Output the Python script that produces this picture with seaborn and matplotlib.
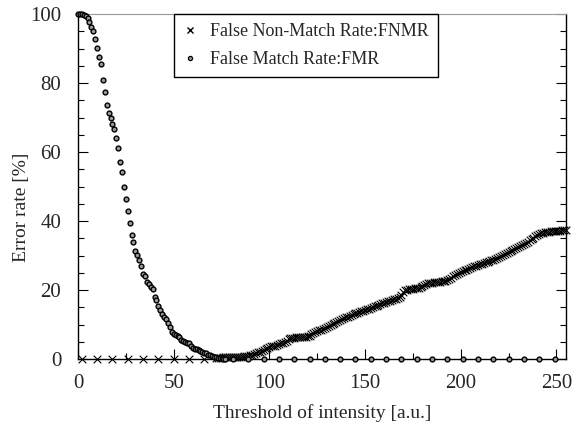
import numpy as np
import pandas as pd
import matplotlib
matplotlib.use("Agg")
import matplotlib.pyplot as plt
from matplotlib.ticker import MultipleLocator
from matplotlib.lines import Line2D
import seaborn as sns

# ---------------- data ----------------
# FMR: falling part, one value per threshold 0..77
fmr_x_fall = list(range(0, 78))
fmr_y_fall = [100, 100, 100, 99.6, 99.3, 98.8, 97.8, 96.3, 95.0, 92.8,
              90.2, 87.4, 85.5, 81.0, 77.5, 73.5, 71.3, 69.9, 68.1, 66.6,
              64.2, 61.1, 57.2, 54.1, 50.0, 46.5, 42.9, 39.5, 35.9, 34.0,
              31.4, 30.2, 28.8, 27.1, 24.5, 24.1, 22.3, 21.6, 21.0, 20.4,
              18.0, 17.1, 15.5, 14.2, 13.0, 12.3, 11.5, 10.4, 9.2, 7.8,
              7.3, 7.0, 6.8, 6.5, 5.4, 5.1, 4.9, 4.7, 4.5, 3.7,
              3.3, 3.0, 2.8, 2.5, 2.3, 2.1, 1.8, 1.6, 1.3, 1.1,
              0.9, 0.7, 0.5, 0.4, 0.3, 0.2, 0.1, 0.1]
# FMR zero values, plotted points
fmr_x_zero = [81, 89, 97, 105, 113, 121, 129, 137, 145, 153, 161, 169,
              177, 185, 193, 201, 209, 217, 225, 233, 241, 249]
fmr_y_zero = [0] * len(fmr_x_zero)

# FNMR: zero part (plotted points)
fnmr_x_zero = [2, 10, 18, 26, 34, 42, 50, 58, 66]
fnmr_y_zero = [0] * len(fnmr_x_zero)
# FNMR: rising part, one value per threshold 72..255
fnmr_x_rise = list(range(72, 256))
fnmr_y_rise = [0.3, 0.3, 0.4, 0.4, 0.5, 0.5, 0.5, 0.5, 0.5, 0.5,
               0.6, 0.6, 0.6, 0.7, 0.7, 0.8, 0.9, 1.0, 1.2, 1.3,
               1.5, 1.7, 1.9, 2.1, 2.3, 2.5, 2.8, 3.1, 3.5, 3.7,
               3.8, 3.9, 4.1, 4.4, 4.5, 4.6, 4.9, 5.3, 5.7, 6.0,
               6.1, 6.2, 6.3, 6.3, 6.4, 6.4, 6.5, 6.5, 6.6, 6.8,
               7.3, 7.6, 7.9, 8.1, 8.3, 8.5, 8.8, 9.1, 9.4, 9.7,
               10.0, 10.2, 10.5, 10.8, 11.0, 11.2, 11.5, 11.8, 12.1, 12.3,
               12.5, 12.8, 13.0, 13.2, 13.4, 13.6, 13.8, 14.0, 14.2, 14.4,
               14.6, 14.8, 15.0, 15.3, 15.5, 15.7, 15.9, 16.1, 16.3, 16.5,
               16.7, 16.9, 17.1, 17.3, 17.5, 17.7, 18.0, 18.6, 19.4, 20.0,
               20.1, 20.2, 20.3, 20.4, 20.5, 20.6, 20.7, 20.9, 21.1, 21.4,
               21.7, 21.9, 22.0, 22.1, 22.2, 22.3, 22.3, 22.4, 22.5, 22.6,
               22.7, 22.9, 23.2, 23.6, 24.0, 24.3, 24.6, 24.9, 25.2, 25.5,
               25.7, 25.9, 26.1, 26.4, 26.6, 26.9, 27.1, 27.3, 27.5, 27.6,
               27.8, 28.0, 28.2, 28.4, 28.6, 28.8, 29.0, 29.3, 29.6, 29.9,
               30.2, 30.5, 30.8, 31.0, 31.3, 31.6, 31.9, 32.2, 32.5, 32.8,
               33.1, 33.4, 33.7, 34.0, 34.4, 34.8, 35.2, 35.6, 36.0, 36.3,
               36.5, 36.6, 36.7, 36.8, 36.9, 37.0, 37.0, 37.1, 37.1, 37.2,
               37.2, 37.3, 37.3, 37.4]

label_fnmr = "False Non-Match Rate:FNMR"
label_fmr = "False Match Rate:FMR"
x_label = "Threshold of intensity [a.u.]"
y_label = "Error rate [%]"

fmr = pd.DataFrame({"x": fmr_x_fall + fmr_x_zero, "y": fmr_y_fall + fmr_y_zero})
fnmr = pd.DataFrame({"x": fnmr_x_zero + fnmr_x_rise, "y": fnmr_y_zero + fnmr_y_rise})

# ---------------- style ----------------
sns.set_style("ticks")
plt.rcParams["font.family"] = ["Liberation Serif", "DejaVu Serif"]

fig = plt.figure(figsize=(5.82, 4.25), dpi=100)
ax = fig.add_axes([78 / 582, 1 - 359 / 425, (566 - 78) / 582, (359 - 14) / 425])

sns.scatterplot(data=fnmr, x="x", y="y", ax=ax, marker="x", s=30,
                color="black", linewidth=0.8, clip_on=False, zorder=3)
sns.scatterplot(data=fmr, x="x", y="y", ax=ax, marker="o", s=12,
                facecolor="0.6", edgecolor="black", linewidth=1.0,
                clip_on=False, zorder=4)

ax.set_xlim(0, 255)
ax.set_ylim(0, 100)
ax.xaxis.set_major_locator(MultipleLocator(50))
ax.xaxis.set_minor_locator(MultipleLocator(25))
ax.yaxis.set_major_locator(MultipleLocator(20))
ax.yaxis.set_minor_locator(MultipleLocator(5))
ax.tick_params(which="both", direction="in", top=False, right=True,
               color="black", width=0.8)
ax.tick_params(which="major", length=7, labelsize=15)
ax.tick_params(axis="x", which="major", pad=11)
ax.tick_params(axis="y", which="major", pad=12)
ax.tick_params(which="minor", length=4)

for side in ["left", "bottom", "right"]:
    ax.spines[side].set_color("black")
    ax.spines[side].set_linewidth(1.0)
    ax.spines[side].set_visible(True)
ax.spines["top"].set_visible(True)
ax.spines["top"].set_color("0.6")
ax.spines["top"].set_linewidth(0.8)

ax.set_xlabel(x_label, fontsize=14, labelpad=8)
ax.set_ylabel(y_label, fontsize=14)
ax.yaxis.set_label_coords(-0.098, 0.44)

handles = [
    Line2D([], [], linestyle="none", marker="x", color="black",
           markersize=5, markeredgewidth=1.0),
    Line2D([], [], linestyle="none", marker="o", markersize=3,
           markerfacecolor="0.6", markeredgecolor="black", markeredgewidth=0.9),
]
leg = ax.legend(handles, [label_fnmr, label_fmr], loc="upper left",
                bbox_to_anchor=(174 / 582, 1 - 14 / 425),
                bbox_transform=fig.transFigure, borderaxespad=0,
                fontsize=13, frameon=True, fancybox=False,
                handlelength=0.8, handletextpad=0.7, labelspacing=0.6,
                borderpad=0.5)
leg.get_frame().set_edgecolor("black")
leg.get_frame().set_linewidth(1.0)
leg.get_frame().set_alpha(1)

fig.savefig("out.png", dpi=100)
